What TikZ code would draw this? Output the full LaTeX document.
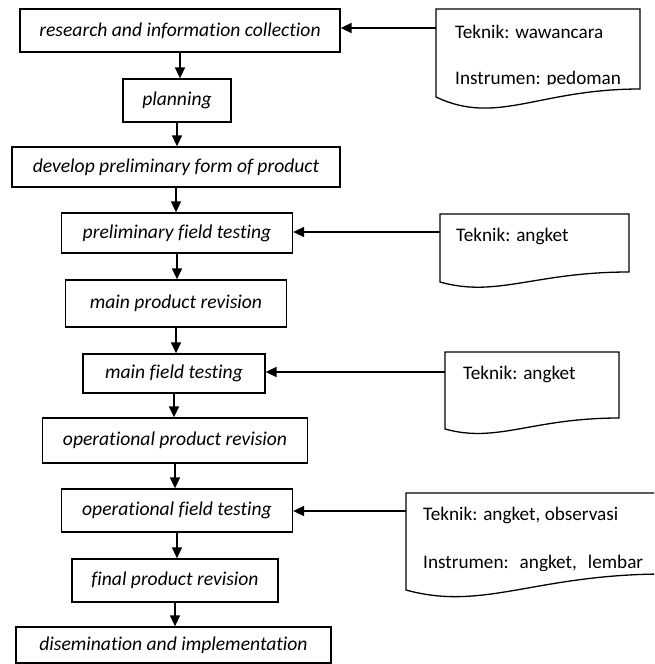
\documentclass[tikz,border=0pt]{standalone}
\usepackage{fontspec}
\setmainfont{Carlito}[Ligatures=NoCommon]
\usetikzlibrary{arrows.meta}
\begin{document}
\begin{tikzpicture}[x=1pt,y=-1pt,
  box/.style={draw=black, line width=1.3pt, rectangle, inner sep=0pt, font=\fontsize{19.6}{22}\selectfont\itshape},
  doctext/.style={inner sep=0pt, anchor=west, font=\fontsize{19.2}{22}\selectfont},
  arr/.style={line width=1.6pt, -{Triangle[length=11pt,width=10pt]}},
  docline/.style={draw=black, line width=1.3pt}]
\useasboundingbox (0,0) rectangle (654,664);
\clip (0,0) rectangle (654,664);
% flow boxes
\node[box, minimum width=320pt, minimum height=43pt] (b1) at (180,30.5) {research and information collection};
\node[box, minimum width=108pt, minimum height=43pt] (b2) at (177,100.5) {planning};
\node[box, minimum width=328pt, minimum height=40pt] (b3) at (176,167) {develop preliminary form of product};
\node[box, minimum width=231pt, minimum height=40pt] (b4) at (177,233) {preliminary field testing};
\node[box, minimum width=221pt, minimum height=47pt] (b5) at (176,303.5) {main product revision};
\node[box, minimum width=182pt, minimum height=39pt] (b6) at (174,373.5) {main field testing};
\node[box, minimum width=265pt, minimum height=45pt] (b7) at (175,440.5) {operational product revision};
\node[box, minimum width=231pt, minimum height=43pt] (b8) at (177,510.5) {operational field testing};
\node[box, minimum width=206pt, minimum height=43pt] (b9) at (175,580.5) {final product revision};
\node[box, minimum width=315pt, minimum height=36pt] (b10) at (173.5,645) {disemination and implementation};
% vertical arrows
\foreach \a/\b in {b1/b2,b2/b3,b3/b4,b4/b5,b5/b6,b6/b7,b7/b8,b8/b9,b9/b10}
  \draw[arr] (\a.south) -- (\a.south |- \b.north);
% document shapes: x0,y0,x1,yR,yL,k
\newcommand\docshape[6]{%
  \draw[docline] (#1,#2) -- (#3,#2) -- (#3,#4)
    .. controls ({#1+0.5*(#3-#1)},#4) and ({#1+0.3*(#3-#1)},{#4+#6}) .. (#1,#5) -- cycle;}
\docshape{436}{9}{640}{89}{97}{37}
\docshape{440}{214}{629}{272}{282}{26}
\docshape{445}{352}{619}{418}{429}{25.5}
\docshape{406}{493}{665}{574}{590}{37.5}
% document texts
\node[doctext] (t1) at (455,32) {Teknik: wawancara};
\begin{scope}
\clip (436,9) rectangle (640,84.5);
\node[doctext] (i1) at (455,79) {Instrumen: pedoman};
\end{scope}
\node[doctext] (t2) at (456,236) {Teknik: angket};
\node[doctext] (t3) at (463,374) {Teknik: angket};
\node[doctext] (t4) at (423,515) {Teknik: angket, observasi};
\begin{scope}
\clip (406,493) rectangle (654,570);
\node[doctext] (i4) at (423,563) {Instrumen:\hspace{11pt}angket,\hspace{11pt}lembar};
\end{scope}
% side arrows
\coordinate (d1) at (436,28);
\coordinate (d2) at (440,232);
\coordinate (d3) at (445,372);
\coordinate (d4) at (406,511);
\draw[arr] (d1) -- (d1 -| b1.east);
\draw[arr] (d2) -- (d2 -| b4.east);
\draw[arr] (d3) -- (d3 -| b6.east);
\draw[arr] (d4) -- (d4 -| b8.east);
\end{tikzpicture}
\end{document}
